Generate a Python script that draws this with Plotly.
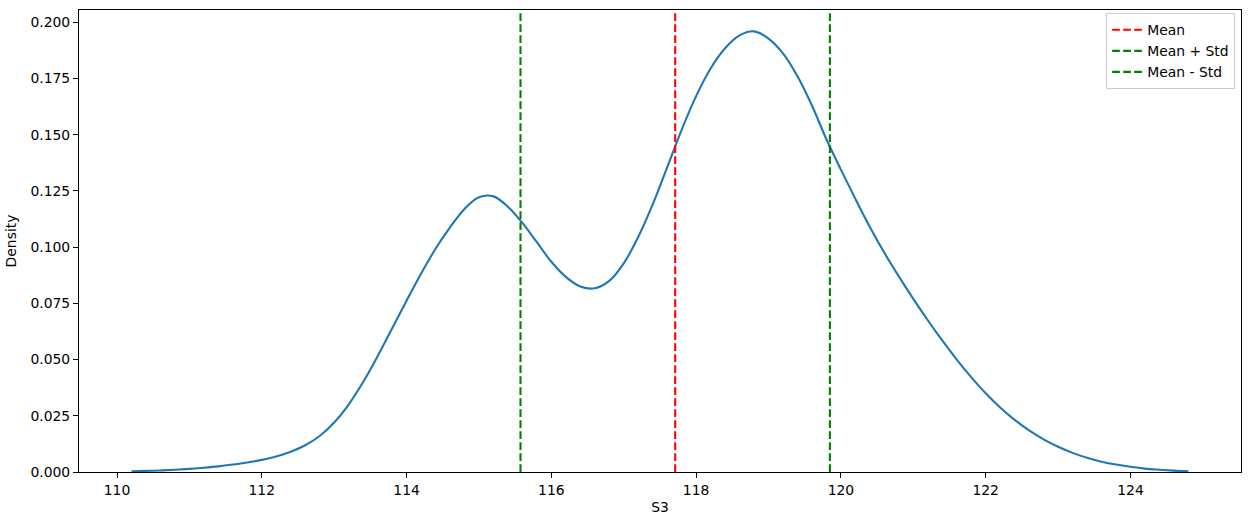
import plotly.graph_objects as go

# KDE curve (uniform 0.2 grid)
s3_x = [110.2, 110.4, 110.6, 110.8, 111.0, 111.2, 111.4, 111.6, 111.8, 112.0,
        112.2, 112.4, 112.6, 112.8, 113.0, 113.2, 113.4, 113.6, 113.8, 114.0,
        114.2, 114.4, 114.6, 114.8, 115.0, 115.2, 115.4, 115.6, 115.8, 116.0,
        116.2, 116.4, 116.6, 116.8, 117.0, 117.2, 117.4, 117.6, 117.8, 118.0,
        118.2, 118.4, 118.6, 118.8, 119.0, 119.2, 119.4, 119.6, 119.8, 120.0,
        120.2, 120.4, 120.6, 120.8, 121.0, 121.2, 121.4, 121.6, 121.8, 122.0,
        122.2, 122.4, 122.6, 122.8, 123.0, 123.2, 123.4, 123.6, 123.8, 124.0,
        124.2, 124.4, 124.6, 124.8]
density = [0.0003, 0.0005, 0.0007, 0.0010, 0.0014, 0.0019, 0.0025, 0.0033, 0.0042, 0.0054,
           0.0069, 0.0090, 0.0119, 0.0160, 0.0220, 0.0300, 0.0400, 0.0515, 0.0638, 0.0762,
           0.0882, 0.0993, 0.1088, 0.1170, 0.1222, 0.1226, 0.1180, 0.1108, 0.1022, 0.0935,
           0.0868, 0.0825, 0.0817, 0.0850, 0.0928, 0.1045, 0.1190, 0.1355, 0.1522, 0.1672,
           0.1795, 0.1885, 0.1942, 0.1960, 0.1928, 0.1862, 0.1760, 0.1630, 0.1480, 0.1345,
           0.1215, 0.1090, 0.0975, 0.0870, 0.0770, 0.0675, 0.0585, 0.0500, 0.0422, 0.0350,
           0.0287, 0.0232, 0.0185, 0.0145, 0.0112, 0.0085, 0.0063, 0.0046, 0.0033, 0.0023,
           0.0015, 0.0010, 0.0006, 0.0003]

mean_val = 117.711
std_val = 2.137
x_ticks = [110, 112, 114, 116, 118, 120, 122, 124]
y_ticks = [0.0, 0.025, 0.05, 0.075, 0.1, 0.125, 0.15, 0.175, 0.2]

FONT = "DejaVu Sans"
FS = 13.9
DASH = "7.7px,3.3px"
LW = 2.1

fig = go.Figure()
fig.add_trace(go.Scatter(x=s3_x, y=density, mode="lines",
                         line=dict(color="#1f77b4", width=LW, shape="spline", smoothing=1.0),
                         showlegend=False, hoverinfo="skip"))

lines = [("Mean", mean_val, "red"),
         ("Mean + Std", mean_val + std_val, "green"),
         ("Mean - Std", mean_val - std_val, "green")]
for name, xv, col in lines:
    fig.add_vline(x=xv, line=dict(color=col, width=LW, dash=DASH))
    fig.add_trace(go.Scatter(x=[None], y=[None], mode="lines", name=name,
                             line=dict(color=col, width=LW, dash=DASH)))

axis_common = dict(showline=True, linecolor="black", linewidth=1.1, mirror=True,
                   ticks="outside", ticklen=5, tickwidth=1.1, tickcolor="black",
                   showgrid=False, zeroline=False,
                   tickfont=dict(family=FONT, size=FS, color="black"))

fig.update_xaxes(range=[109.475, 125.527], tickvals=x_ticks,
                 ticktext=[str(v) for v in x_ticks],
                 title=dict(text="S3", font=dict(family=FONT, size=FS, color="black"), standoff=5),
                 **axis_common)
fig.update_yaxes(range=[0, 0.2055], tickvals=y_ticks,
                 ticktext=[f"{v:.3f}" for v in y_ticks],
                 title=dict(text="Density", font=dict(family=FONT, size=FS, color="black"), standoff=10),
                 **axis_common)

fig.update_layout(
    width=1251, height=525,
    margin=dict(l=79, r=10, t=10, b=53),
    paper_bgcolor="white", plot_bgcolor="white",
    font=dict(family=FONT, size=FS, color="black"),
    legend=dict(x=0.995, y=0.993, xanchor="right", yanchor="top",
                bgcolor="rgba(255,255,255,0.8)", bordercolor="#cccccc", borderwidth=1,
                font=dict(family=FONT, size=FS, color="black"),
                itemwidth=30, tracegroupgap=0),
)

fig.write_html("out.html", config={"displayModeBar": False},
               post_script="document.body.style.margin='0';document.body.style.padding='0';")
